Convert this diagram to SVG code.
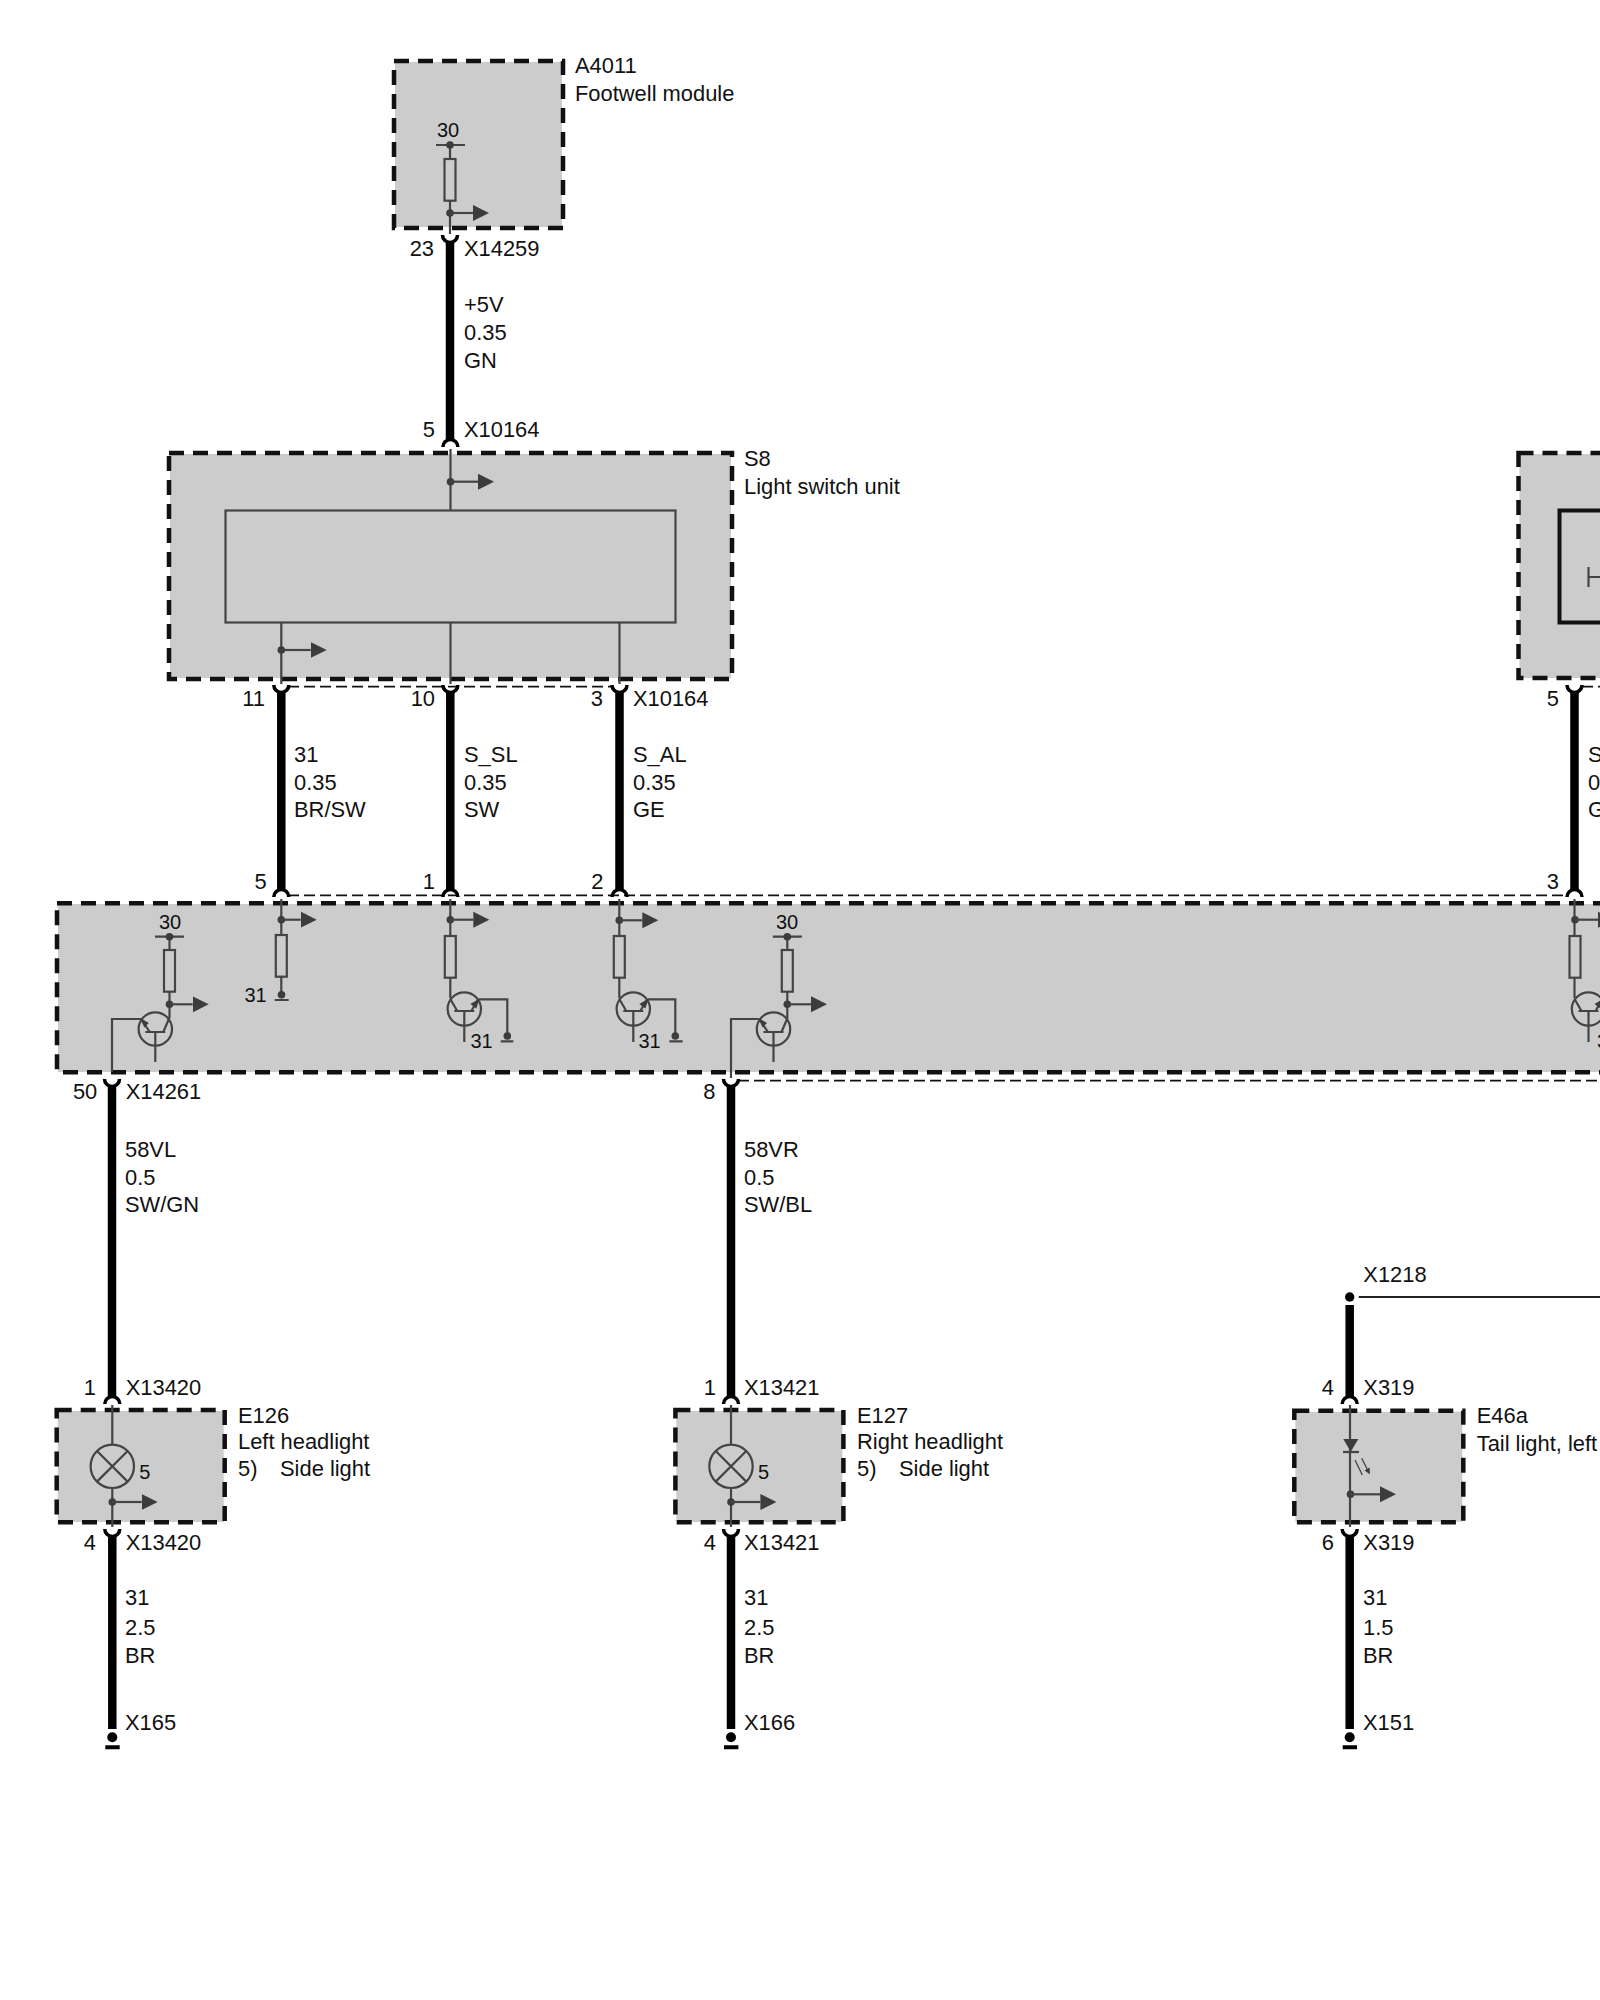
<svg xmlns="http://www.w3.org/2000/svg" width="1600" height="2000" viewBox="0 0 1600 2000">
<style>
text{font-family:"Liberation Sans",Arial,sans-serif;font-size:21.9px;fill:#111}
.s{font-size:20px}
.e{text-anchor:end}
.m{text-anchor:middle}
.bg{fill:#ccc;stroke:none}
.dash{fill:none;stroke:#111;stroke-width:4.500;stroke-dasharray:15 9}
.th{fill:none;stroke:#444;stroke-width:2.200}
.dot{fill:#3c3c3c;stroke:none}
.wire{stroke:#000;stroke-width:8.500;fill:none}
.tdash{stroke:#111;stroke-width:1.800;stroke-dasharray:11 5;fill:none}
.cup{stroke:#000;stroke-width:3.500;fill:none}
</style>
<defs>
<marker id="arrow" markerUnits="userSpaceOnUse" markerWidth="17" markerHeight="18" refX="0" refY="9" orient="auto"><path d="M0 1L16 9L0 17Z" fill="#3c3c3c"/></marker>
<marker id="led" markerUnits="userSpaceOnUse" markerWidth="7" markerHeight="8" refX="5" refY="3" orient="auto"><path d="M0 0L6 3L0 6Z" fill="#3c3c3c"/></marker>
<path id="cupU" class="cup" d="M-7.500 0A7.500 7.500 0 0 0 7.500 0"/>
<path id="cupD" class="cup" d="M-7.500 0A7.500 7.500 0 0 1 7.500 0"/>
<g id="res"><rect class="th" x="-5.500" y="0" width="11" height="41.700"/></g>
<g id="drv">
<circle class="th" cx="0" cy="0" r="16.700"/>
<path class="th" d="M-10 3H10M0 3V33M14 -11L8 3M-14 -9.500L-5.500 3"/>
<path class="dot" d="M-15 -11L-6.500 -6L-11 -1.500Z"/>
</g>
<g id="swi">
<circle class="th" cx="0" cy="0" r="16.700"/>
<path class="th" d="M-10 2H10M0 2V33M-14 -10L-7 2M14 -10L7 2"/>
<path class="dot" d="M15.500 -10.500L12 -0.500L6 -5Z"/>
</g>
</defs>
<rect width="1600" height="2000" fill="#fff"/>

<g id="A4011">
<rect class="bg" x="395" y="62" width="167" height="165"/>
<rect class="dash" x="394" y="61" width="169" height="167"/>
<path class="th" d="M450 145V159M450 200.700V234M436 145H465"/>
<use href="#res" x="450" y="159"/>
<circle class="dot" cx="450" cy="145" r="3.800"/>
<circle class="dot" cx="450" cy="213" r="3.800"/>
<path class="th" d="M450 213H473" marker-end="url(#arrow)"/>
<text class="s m" x="448" y="137">30</text>
<text x="575" y="72.700">A4011</text>
<text x="575" y="100.700">Footwell module</text>
</g>

<g id="S8">
<rect class="bg" x="170" y="454" width="561" height="224"/>
<rect class="dash" x="169" y="453" width="563" height="226"/>
<rect class="th" x="225.500" y="510.500" width="450" height="112"/>
<path class="th" d="M450.500 449V510M281.300 622.500V684M450.500 622.500V684M619.500 622.500V684"/>
<circle class="dot" cx="450.500" cy="481.700" r="3.800"/>
<path class="th" d="M450.500 481.700H478" marker-end="url(#arrow)"/>
<circle class="dot" cx="281.300" cy="650" r="3.800"/>
<path class="th" d="M281.300 650H310.700" marker-end="url(#arrow)"/>
<text x="744" y="466">S8</text>
<text x="744" y="494">Light switch unit</text>
</g>

<g id="module-main">
<rect class="bg" x="58" y="904" width="1552" height="168"/>
<rect class="dash" x="57" y="903.300" width="1570" height="169"/>
<path class="th" d="M155 936.700H184M169.500 936.700V950M169.500 991.700V1018M112 1072V1019H141"/>
<use href="#res" x="169.500" y="950"/>
<circle class="dot" cx="169.500" cy="936.700" r="3.800"/>
<circle class="dot" cx="169.500" cy="1004.300" r="3.800"/>
<path class="th" d="M169.500 1004.300H192.700" marker-end="url(#arrow)"/>
<use href="#drv" x="155.300" y="1029"/>
<text class="s m" x="170" y="928.700">30</text>
<path class="th" d="M281.300 899V935M281.300 976.700V994.700M274.700 1000H288.700"/>
<use href="#res" x="281.300" y="935"/>
<circle class="dot" cx="281.300" cy="919.700" r="3.800"/>
<path class="th" d="M281.300 919.700H300.700" marker-end="url(#arrow)"/>
<circle class="dot" cx="281.500" cy="994.700" r="3.800"/>
<text class="s e" x="266.700" y="1001.700">31</text>
<path class="th" d="M450.300 899V936M450.300 977.700V998M479 999.300H507.300V1036M500.700 1041.300H513.300"/>
<use href="#res" x="450.300" y="936"/>
<circle class="dot" cx="450.300" cy="919.700" r="3.800"/>
<path class="th" d="M450.300 919.700H473.300" marker-end="url(#arrow)"/>
<use href="#swi" x="464.300" y="1009"/>
<circle class="dot" cx="507.300" cy="1036" r="3.800"/>
<text class="s e" x="492.700" y="1047.700">31</text>
<path class="th" d="M619.300 899V936M619.300 977.700V998M648 999.300H675.300V1036M669.300 1041.300H682.700"/>
<use href="#res" x="619.300" y="936"/>
<circle class="dot" cx="619.300" cy="920.300" r="3.800"/>
<path class="th" d="M619.300 920.300H642.300" marker-end="url(#arrow)"/>
<use href="#swi" x="633.300" y="1009"/>
<circle class="dot" cx="675.300" cy="1036" r="3.800"/>
<text class="s e" x="660.700" y="1047.700">31</text>
<path class="th" d="M772.800 936.700H801.800M787.300 936.700V950M787.300 991.700V1018M731 1078V1019H758.800"/>
<use href="#res" x="787.300" y="950"/>
<circle class="dot" cx="787.300" cy="936.700" r="3.800"/>
<circle class="dot" cx="787.300" cy="1004.300" r="3.800"/>
<path class="th" d="M787.300 1004.300H811" marker-end="url(#arrow)"/>
<use href="#drv" x="773.500" y="1029"/>
<text class="s m" x="787" y="928.700">30</text>
<path class="th" d="M1574.500 899V936M1574.500 977.700V998"/>
<use href="#res" x="1575" y="936"/>
<circle class="dot" cx="1575" cy="919.700" r="3.800"/>
<path class="th" d="M1575 919.700H1598" marker-end="url(#arrow)"/>
<use href="#swi" x="1588.500" y="1009"/>
<text class="s" x="1597" y="1047.700">3</text>
</g>

<g id="module-right">
<rect class="bg" x="1519.500" y="454" width="100" height="224"/>
<rect class="dash" x="1518.500" y="453" width="130" height="225"/>
<rect x="1559.500" y="510.500" width="80" height="112" fill="none" stroke="#111" stroke-width="4"/>
<path class="th" d="M1588.500 567V587M1588.500 577H1610"/>
</g>

<g id="E126">
<rect class="bg" x="57.700" y="1411" width="166" height="111"/>
<rect class="dash" x="56.700" y="1410" width="168" height="112.300"/>
<path class="th" d="M112.300 1405V1444.600M112.300 1488V1527"/>
<circle class="th" cx="112.300" cy="1466.300" r="21.700"/>
<path class="th" d="M97 1451L127.600 1481.600M127.600 1451L97 1481.600"/>
<circle class="dot" cx="112.300" cy="1502" r="3.800"/>
<path class="th" d="M112.300 1502H141.700" marker-end="url(#arrow)"/>
<text class="s" x="139.300" y="1479.300">5</text>
<text x="238" y="1422.700">E126</text>
<text x="238" y="1449.300">Left headlight</text>
<text x="238" y="1475.700">5)</text>
<text x="280" y="1475.700">Side light</text>
</g>

<g id="E127">
<rect class="bg" x="676.400" y="1411" width="166" height="111"/>
<rect class="dash" x="675.400" y="1410" width="168" height="112.300"/>
<path class="th" d="M731 1405V1444.600M731 1488V1527"/>
<circle class="th" cx="731" cy="1466.300" r="21.700"/>
<path class="th" d="M715.700 1451L746.300 1481.600M746.300 1451L715.700 1481.600"/>
<circle class="dot" cx="731" cy="1502" r="3.800"/>
<path class="th" d="M731 1502H760.400" marker-end="url(#arrow)"/>
<text class="s" x="758" y="1479.300">5</text>
<text x="857" y="1422.700">E127</text>
<text x="857" y="1449.300">Right headlight</text>
<text x="857" y="1475.700">5)</text>
<text x="899" y="1475.700">Side light</text>
</g>

<g id="E46a">
<rect class="bg" x="1295.300" y="1411.700" width="167" height="110"/>
<rect class="dash" x="1294.300" y="1410.700" width="169" height="111.600"/>
<path class="th" d="M1350 1405V1527"/>
<path class="dot" d="M1343.300 1439H1358.300L1350.800 1451.700Z"/>
<path class="th" d="M1343 1452H1359"/>
<path d="M1355 1460L1362.300 1475M1361.700 1458.300L1369.300 1473.300" stroke="#444" stroke-width="1.300" fill="none" marker-end="url(#led)"/>
<circle class="dot" cx="1350.500" cy="1494.300" r="3.800"/>
<path class="th" d="M1350.500 1494.300H1380" marker-end="url(#arrow)"/>
<text x="1476.700" y="1422.700">E46a</text>
<text x="1476.700" y="1451">Tail light, left</text>
</g>

<g id="connectors">
<path class="wire" d="M450 241V440M281.300 691V890M450.300 691V890M619.500 691V890M1574.500 691V890M112 1085V1397M731 1085V1397M1349.700 1305V1397M112.300 1535V1729M731 1535V1729M1349.700 1535V1729"/>
<path class="tdash" d="M288 686.700H612M1582 686.700H1600M288 895.300H1567M738 1080.700H1600"/>
<use href="#cupU" x="450" y="235"/>
<use href="#cupD" x="450.400" y="447"/>
<use href="#cupU" x="281.300" y="685"/>
<use href="#cupU" x="450.400" y="685"/>
<use href="#cupU" x="619.500" y="685"/>
<use href="#cupU" x="1574.500" y="685"/>
<use href="#cupD" x="281.300" y="897"/>
<use href="#cupD" x="450.400" y="897"/>
<use href="#cupD" x="619.500" y="897"/>
<use href="#cupD" x="1574.500" y="897"/>
<use href="#cupU" x="112" y="1079"/>
<use href="#cupU" x="731" y="1079"/>
<use href="#cupD" x="112.300" y="1404"/>
<use href="#cupD" x="731" y="1404"/>
<use href="#cupD" x="1349.700" y="1404"/>
<use href="#cupU" x="112.300" y="1529"/>
<use href="#cupU" x="731" y="1529"/>
<use href="#cupU" x="1349.700" y="1529"/>
<circle cx="1349.700" cy="1297" r="4.700" fill="#000"/>
<path d="M1358.700 1297H1600" stroke="#222" stroke-width="1.800" fill="none"/>
<circle cx="112.300" cy="1737.300" r="5" fill="#000"/>
<circle cx="731" cy="1737.300" r="5" fill="#000"/>
<circle cx="1349.700" cy="1737.300" r="5" fill="#000"/>
<path d="M105.300 1747.300H119.700M724 1747.300H738.400M1342.700 1747.300H1357" stroke="#000" stroke-width="4" fill="none"/>
</g>

<g id="labels">
<text class="e" x="434" y="256">23</text><text x="464" y="256">X14259</text>
<text x="464" y="312">+5V</text><text x="464" y="340">0.35</text><text x="464" y="368">GN</text>
<text class="e" x="435" y="437">5</text><text x="464" y="437">X10164</text>
<text class="e" x="265" y="706">11</text><text class="e" x="435" y="706">10</text><text class="e" x="603" y="706">3</text><text x="633" y="706">X10164</text>
<text x="294" y="762">31</text><text x="294" y="790">0.35</text><text x="294" y="817">BR/SW</text>
<text x="464" y="762">S_SL</text><text x="464" y="790">0.35</text><text x="464" y="817">SW</text>
<text x="633" y="762">S_AL</text><text x="633" y="790">0.35</text><text x="633" y="817">GE</text>
<text class="e" x="1559" y="705.500">5</text>
<text x="1588" y="762">S</text><text x="1588" y="790">0</text><text x="1588" y="817">G</text>
<text class="e" x="266.700" y="889">5</text><text class="e" x="435" y="889">1</text><text class="e" x="603.500" y="889">2</text><text class="e" x="1559" y="889">3</text>
<text class="e" x="97.300" y="1098.800">50</text><text x="125.700" y="1098.800">X14261</text>
<text class="e" x="715.500" y="1098.800">8</text>
<text x="125" y="1157">58VL</text><text x="125" y="1185">0.5</text><text x="125" y="1212">SW/GN</text>
<text x="744" y="1157">58VR</text><text x="744" y="1185">0.5</text><text x="744" y="1212">SW/BL</text>
<text x="1363.300" y="1281.700">X1218</text>
<text class="e" x="96" y="1394.700">1</text><text x="125.700" y="1394.700">X13420</text>
<text class="e" x="716" y="1394.700">1</text><text x="744" y="1394.700">X13421</text>
<text class="e" x="1334" y="1394.700">4</text><text x="1363.300" y="1394.700">X319</text>
<text class="e" x="96" y="1550">4</text><text x="125.700" y="1550">X13420</text>
<text class="e" x="716" y="1550">4</text><text x="744" y="1550">X13421</text>
<text class="e" x="1334" y="1550">6</text><text x="1363.300" y="1550">X319</text>
<text x="125" y="1605">31</text><text x="125" y="1635">2.5</text><text x="125" y="1663">BR</text>
<text x="744" y="1605">31</text><text x="744" y="1635">2.5</text><text x="744" y="1663">BR</text>
<text x="1363" y="1605">31</text><text x="1363" y="1635">1.5</text><text x="1363" y="1663">BR</text>
<text x="125" y="1730">X165</text><text x="744" y="1730">X166</text><text x="1363" y="1730">X151</text>
</g>
</svg>
